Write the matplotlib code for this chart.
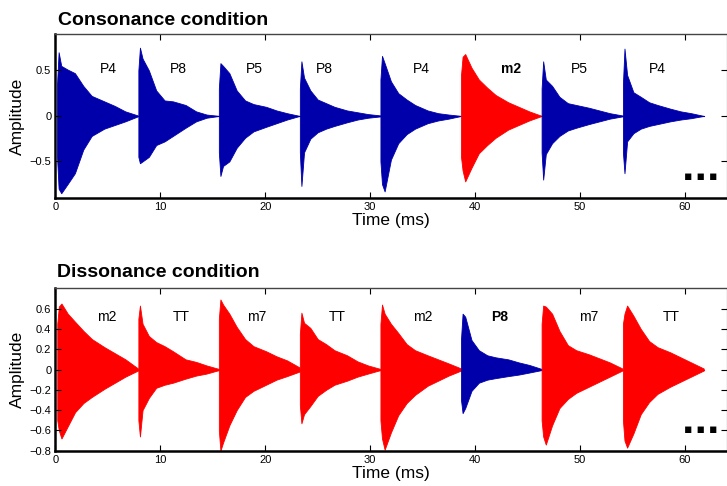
import numpy as np
from matplotlib import pyplot as plt

plt.rcParams['font.family'] = ['Liberation Sans', 'DejaVu Sans']

# offsets (ms) from each tone's onset where the envelope was read
env_t = [0, 0.15, 0.4, 1.0, 1.7, 2.5, 3.3, 4.5, 5.5, 6.5, 7.7]

# ---- consonance condition ----
cons_onsets = [0.15, 7.9, 15.57, 23.29, 30.97, 38.65, 46.33, 54.08]
cons_labels = ['P4', 'P8', 'P5', 'P8', 'P4', 'm2', 'P5', 'P4']
cons_label_x = [5.0, 11.7, 19.0, 25.6, 34.9, 43.4, 49.9, 57.4]
cons_odd = [False, False, False, False, False, True, False, False]
cons_upper = [
    [0.35, 0.70, 0.55, 0.51, 0.47, 0.33, 0.22, 0.16, 0.11, 0.05, 0.005],
    [0.50, 0.75, 0.63, 0.50, 0.28, 0.17, 0.16, 0.12, 0.05, 0.015, 0.0],
    [0.30, 0.58, 0.55, 0.47, 0.28, 0.17, 0.13, 0.10, 0.06, 0.03, 0.0],
    [0.30, 0.60, 0.42, 0.28, 0.18, 0.14, 0.10, 0.06, 0.04, 0.02, 0.005],
    [0.40, 0.66, 0.58, 0.38, 0.25, 0.18, 0.12, 0.06, 0.03, 0.015, 0.0],
    [0.45, 0.65, 0.68, 0.53, 0.40, 0.31, 0.23, 0.15, 0.10, 0.05, 0.0],
    [0.30, 0.60, 0.40, 0.33, 0.21, 0.14, 0.12, 0.09, 0.06, 0.03, 0.005],
    [0.35, 0.74, 0.45, 0.26, 0.21, 0.15, 0.12, 0.08, 0.05, 0.03, 0.0],
]
cons_lower = [
    [-0.45, -0.80, -0.85, -0.75, -0.63, -0.37, -0.22, -0.14, -0.10, -0.06, -0.005],
    [-0.45, -0.52, -0.50, -0.45, -0.32, -0.28, -0.22, -0.13, -0.06, -0.02, 0.0],
    [-0.40, -0.66, -0.55, -0.50, -0.35, -0.24, -0.17, -0.12, -0.08, -0.04, 0.0],
    [-0.40, -0.77, -0.40, -0.25, -0.18, -0.14, -0.11, -0.07, -0.04, -0.02, -0.005],
    [-0.50, -0.75, -0.83, -0.48, -0.30, -0.20, -0.14, -0.08, -0.05, -0.03, 0.0],
    [-0.45, -0.60, -0.72, -0.57, -0.41, -0.32, -0.24, -0.15, -0.10, -0.05, 0.0],
    [-0.40, -0.70, -0.42, -0.30, -0.22, -0.16, -0.13, -0.09, -0.06, -0.03, -0.005],
    [-0.40, -0.63, -0.28, -0.19, -0.14, -0.11, -0.09, -0.06, -0.04, -0.025, 0.0],
]

# ---- dissonance condition ----
diss_onsets = [0.17, 7.9, 15.57, 23.29, 30.97, 38.65, 46.33, 54.08]
diss_labels = ['m2', 'TT', 'm7', 'TT', 'm2', 'P8', 'm7', 'TT']
diss_label_x = [4.9, 12.0, 19.2, 26.9, 35.0, 42.3, 50.8, 58.7]
diss_odd = [False, False, False, False, False, True, False, False]
diss_upper = [
    [0.45, 0.62, 0.65, 0.55, 0.47, 0.38, 0.30, 0.22, 0.16, 0.10, 0.01],
    [0.50, 0.63, 0.45, 0.33, 0.27, 0.23, 0.18, 0.10, 0.075, 0.04, 0.005],
    [0.50, 0.69, 0.64, 0.55, 0.42, 0.30, 0.23, 0.18, 0.13, 0.09, 0.02],
    [0.35, 0.56, 0.46, 0.41, 0.30, 0.25, 0.19, 0.14, 0.08, 0.04, 0.005],
    [0.45, 0.64, 0.55, 0.45, 0.36, 0.25, 0.19, 0.14, 0.10, 0.06, 0.01],
    [0.30, 0.55, 0.52, 0.29, 0.19, 0.14, 0.12, 0.10, 0.07, 0.045, 0.005],
    [0.45, 0.63, 0.62, 0.55, 0.38, 0.24, 0.19, 0.15, 0.11, 0.07, 0.01],
    [0.45, 0.55, 0.63, 0.53, 0.40, 0.28, 0.22, 0.17, 0.12, 0.07, 0.01],
]
diss_lower = [
    [-0.50, -0.60, -0.68, -0.56, -0.42, -0.33, -0.27, -0.19, -0.13, -0.07, -0.01],
    [-0.50, -0.66, -0.40, -0.28, -0.18, -0.15, -0.13, -0.09, -0.06, -0.04, -0.005],
    [-0.60, -0.80, -0.72, -0.55, -0.40, -0.27, -0.21, -0.15, -0.10, -0.065, -0.02],
    [-0.35, -0.53, -0.44, -0.36, -0.26, -0.20, -0.15, -0.11, -0.07, -0.04, -0.005],
    [-0.50, -0.68, -0.79, -0.62, -0.45, -0.33, -0.25, -0.16, -0.11, -0.06, -0.01],
    [-0.30, -0.43, -0.38, -0.21, -0.13, -0.10, -0.085, -0.065, -0.05, -0.03, -0.005],
    [-0.50, -0.66, -0.74, -0.55, -0.38, -0.29, -0.23, -0.17, -0.12, -0.07, -0.01],
    [-0.50, -0.70, -0.77, -0.63, -0.44, -0.32, -0.24, -0.17, -0.12, -0.07, -0.01],
]

cons_yticks = [-0.5, 0, 0.5]
cons_yticklabels = ['\u22120.5', '0', '0.5']
diss_yticks = [-0.8, -0.6, -0.4, -0.2, 0, 0.2, 0.4, 0.6]
diss_yticklabels = ['\u22120.8', '\u22120.6', '\u22120.4', '\u22120.2', '0', '0.2', '0.4', '0.6']
xticks = [0, 10, 20, 30, 40, 50, 60]

BLUE = '#0000aa'
RED = '#ff0000'


def draw_panel(ax, onsets, upper, lower, labels, label_x, odd, main_col, odd_col,
               ylim, yticks, yticklabels, dots_y):
    base = np.array(env_t)
    for i in range(len(onsets)):
        # the odd one out is drawn in the other colour
        col = odd_col if odd[i] else main_col
        t = onsets[i] + base
        ax.fill_between(t, lower[i], upper[i], color=col, lw=0.6,
                        edgecolor=col)
        ax.text(label_x[i], 0.52, labels[i], fontsize=10, ha='center',
                va='center', fontweight='bold' if odd[i] else 'normal')
    # thin baseline through the whole sequence
    ax.plot([onsets[0], onsets[-1] + env_t[-1]], [0, 0], color=main_col,
            lw=0.8, zorder=0)
    ax.set_xlim(0, 64)
    ax.set_ylim(ylim)
    ax.set_xticks(xticks)
    ax.set_yticks(yticks)
    ax.set_yticklabels(yticklabels)
    ax.tick_params(direction='in', top=True, right=True, labelsize=8, length=4,
                   pad=3)
    ax.set_xlabel('Time (ms)', fontsize=12.5, labelpad=1)
    ax.set_ylabel('Amplitude', fontsize=12.5, labelpad=3)
    for s in ['left', 'bottom']:
        ax.spines[s].set_linewidth(1.8)
    ax.spines['top'].set_linewidth(1.0)
    ax.spines['top'].set_color('#444444')
    # "more trials follow" marker
    ax.text(61.5, dots_y, '\u25aa \u25aa \u25aa', fontsize=9, ha='center',
            va='center', family='DejaVu Sans')


fig = plt.figure(figsize=(7.27, 4.86), dpi=100)
ax1 = fig.add_axes([0.0763, 0.593, 0.9237, 0.337])
ax2 = fig.add_axes([0.0763, 0.0726, 0.9237, 0.3342])

draw_panel(ax1, cons_onsets, cons_upper, cons_lower, cons_labels, cons_label_x,
           cons_odd, BLUE, RED, (-0.9, 0.9), cons_yticks, cons_yticklabels, -0.67)
draw_panel(ax2, diss_onsets, diss_upper, diss_lower, diss_labels, diss_label_x,
           diss_odd, RED, BLUE, (-0.8, 0.8), diss_yticks, diss_yticklabels, -0.59)

fig.text(58 / 727, 1 - 25 / 486, 'Consonance condition', fontsize=14,
         fontweight='bold', va='baseline')
fig.text(57 / 727, 1 - 277 / 486, 'Dissonance condition', fontsize=14,
         fontweight='bold', va='baseline')

plt.savefig('out.png', dpi=100)
